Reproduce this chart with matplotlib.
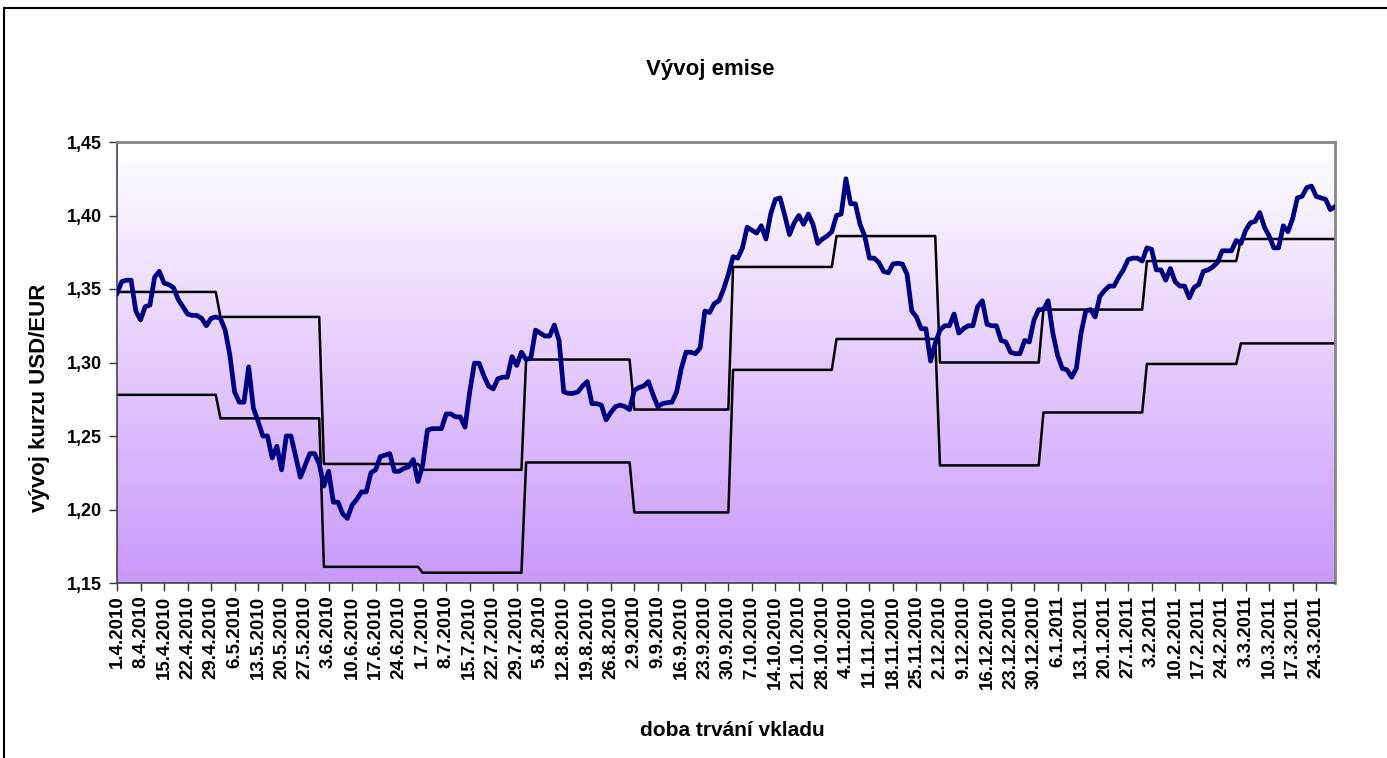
import numpy as np
import pandas as pd
import matplotlib
matplotlib.use("Agg")
import matplotlib.pyplot as plt
from matplotlib.patches import Rectangle

# business days 1.4.2010 - 30.3.2011
dates = pd.bdate_range("2010-04-01", "2011-03-30")

usd_eur = [
    1.347, 1.355, 1.356, 1.356, 1.335, 1.329, 1.338, 1.339, 1.358, 1.362,
    1.354, 1.353, 1.351, 1.343, 1.338, 1.333, 1.332, 1.332, 1.330, 1.325,
    1.330, 1.331, 1.330, 1.322, 1.305, 1.280, 1.273, 1.273, 1.297, 1.269,
    1.260, 1.250, 1.250, 1.235, 1.243, 1.227, 1.250, 1.250, 1.236, 1.222,
    1.230, 1.238, 1.238, 1.231, 1.216, 1.226, 1.205, 1.205, 1.197, 1.194,
    1.203, 1.207, 1.212, 1.212, 1.225, 1.227, 1.236, 1.237, 1.238, 1.226,
    1.226, 1.228, 1.229, 1.234, 1.219, 1.230, 1.254, 1.255, 1.255, 1.255,
    1.265, 1.265, 1.263, 1.263, 1.256, 1.280, 1.2995, 1.2995, 1.291, 1.284,
    1.282, 1.289, 1.290, 1.290, 1.304, 1.298, 1.307, 1.302, 1.303, 1.322,
    1.320, 1.318, 1.318, 1.3255, 1.315, 1.280, 1.279, 1.279, 1.280, 1.284,
    1.287, 1.272, 1.272, 1.271, 1.261, 1.266, 1.270, 1.271, 1.270, 1.268,
    1.281, 1.283, 1.284, 1.287, 1.278, 1.270, 1.272, 1.2727, 1.273, 1.280,
    1.296, 1.307, 1.307, 1.306, 1.310, 1.335, 1.334, 1.340, 1.342, 1.350,
    1.360, 1.372, 1.371, 1.378, 1.392, 1.390, 1.388, 1.393, 1.384,
    1.401, 1.411, 1.412, 1.400, 1.387, 1.395, 1.400, 1.394, 1.401, 1.394,
    1.381, 1.384, 1.386, 1.389, 1.400, 1.401, 1.425, 1.408, 1.408, 1.394,
    1.386, 1.371, 1.371, 1.368, 1.362, 1.361, 1.367, 1.3675, 1.367, 1.360,
    1.335, 1.331, 1.323, 1.323, 1.301, 1.313, 1.322, 1.325, 1.325, 1.333,
    1.320, 1.323, 1.325, 1.325, 1.338, 1.342, 1.326, 1.325, 1.325, 1.315,
    1.314, 1.307, 1.306, 1.306, 1.315, 1.314, 1.329, 1.336, 1.336, 1.342,
    1.320, 1.305, 1.296, 1.295, 1.290, 1.296, 1.320, 1.335, 1.336, 1.331,
    1.345, 1.349, 1.352, 1.352, 1.358, 1.363, 1.370, 1.371, 1.371, 1.369,
    1.378, 1.377, 1.363, 1.363, 1.356, 1.364, 1.355, 1.352, 1.352, 1.344,
    1.351, 1.353, 1.362, 1.363, 1.365, 1.368, 1.376, 1.376, 1.376, 1.383,
    1.381, 1.390, 1.395, 1.396, 1.402, 1.392, 1.386, 1.378, 1.378, 1.393,
    1.389, 1.398, 1.412, 1.413, 1.419, 1.420, 1.413, 1.412, 1.411, 1.404,
    1.406,
]

# monthly barrier levels, index where each level starts
period_start = [0, 22, 44, 65, 87, 110, 131, 153, 175, 197, 219, 239]
upper_level = [1.348, 1.331, 1.231, 1.227, 1.302, 1.268, 1.365, 1.386,
               1.300, 1.336, 1.369, 1.384]
lower_level = [1.278, 1.262, 1.161, 1.157, 1.232, 1.198, 1.295, 1.316,
               1.230, 1.266, 1.299, 1.313]

n = len(usd_eur)
lengths = np.diff(period_start + [n])
upper = np.repeat(upper_level, lengths)
lower = np.repeat(lower_level, lengths)
x = np.arange(n)

labels = [f"{d.day}.{d.month}.{d.year}" for d in dates]
yticks = [1.15, 1.20, 1.25, 1.30, 1.35, 1.40, 1.45]

plt.rcParams["font.family"] = ["Liberation Sans", "DejaVu Sans"]

fig = plt.figure(figsize=(13.87, 7.58), dpi=100)
ax = fig.add_axes([117 / 1387, 1 - 583 / 758, 1218 / 1387, 441 / 758])

# gradient background of the plot area
grad = np.linspace(0, 1, 256)[:, None]
top_c = np.array([1.0, 1.0, 1.0])
bot_c = np.array([0.79, 0.60, 0.98])
img = top_c + (bot_c - top_c) * grad[:, :, None]
ax.imshow(img, extent=[0, n - 1, 1.15, 1.45], aspect="auto", zorder=0)

ax.plot(x, upper, color="black", lw=1.8, zorder=2)
ax.plot(x, lower, color="black", lw=1.8, zorder=2)
ax.plot(x, usd_eur, color="#000080", lw=3.4, zorder=3, solid_joinstyle="round")

ax.set_xlim(0, n - 1)
ax.set_ylim(1.15, 1.45)
ax.set_yticks(yticks)
ax.set_yticklabels([f"{v:.2f}".replace(".", ",") for v in yticks],
                   fontsize=13, fontweight="bold")
ax.set_xticks(x[::5])
ax.set_xticklabels(labels[::5], rotation=90, fontsize=13.5, fontweight="bold")
ax.tick_params(axis="both", direction="out", length=6, width=1, color="#333333")
ax.tick_params(axis="x", pad=3)
ax.tick_params(axis="y", pad=5)

for s in ["top", "right"]:
    ax.spines[s].set_color("#888888")
    ax.spines[s].set_linewidth(2)
for s in ["left", "bottom"]:
    ax.spines[s].set_color("#444444")
    ax.spines[s].set_linewidth(1.2)

fig.text(710 / 1387, 1 - 69 / 758, "Vývoj emise", ha="center", va="center",
         fontsize=16, fontweight="bold")
fig.text(40 / 1387, 1 - 398 / 758, "vývoj kurzu USD/EUR", rotation=90,
         ha="center", va="center", fontsize=16, fontweight="bold")
fig.text(732 / 1387, 1 - 730 / 758, "doba trvání vkladu", ha="center",
         va="center", fontsize=15, fontweight="bold")

fig.patches.append(Rectangle((4 / 1387, -0.05), 1.1, 1 - 8 / 758 + 0.05,
                             transform=fig.transFigure, fill=False,
                             edgecolor="black", lw=1.5))

fig.savefig("out.png", dpi=100)
